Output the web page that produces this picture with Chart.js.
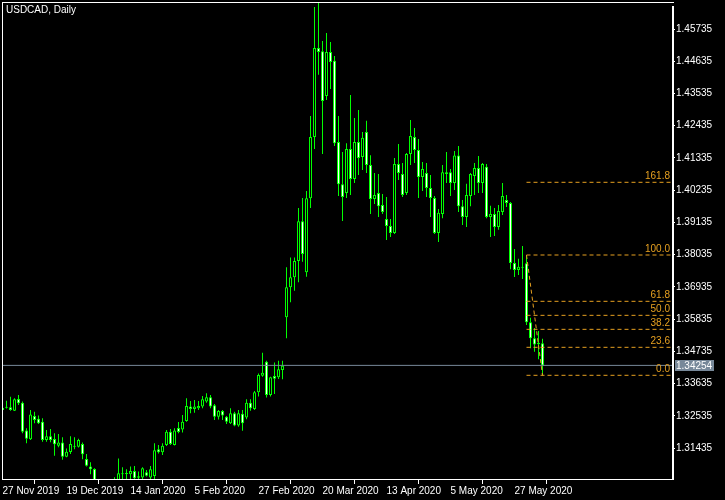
<!DOCTYPE html>
<html>
<head>
<meta charset="utf-8">
<script src="https://cdn.jsdelivr.net/npm/chart.js@4.4.1/dist/chart.umd.min.js"></script>
<style>
  html, body { margin: 0; padding: 0; background: #000; }
</style>
</head>
<body>
<canvas id="myChart" width="725" height="500"></canvas>
<script>
var symbolTitle = "USDCAD, Daily";

// daily OHLC, 27 Nov 2019 .. 5 Jun 2020
var opens = [
  1.3273,1.3281,1.3283,1.3271,1.3311,1.3298,1.3203,1.3173,1.3253,1.3243,
  1.3233,1.3171,1.3184,1.3174,1.3151,1.3162,1.3114,1.3130,1.3151,1.3148,
  1.3157,1.3106,1.3080,1.3072,1.3020,1.2995,1.2975,1.3005,1.2985,1.3010,
  1.3057,1.3058,1.3054,1.3065,1.3042,1.3043,1.3061,1.3043,1.3048,1.3139,
  1.3129,1.3154,1.3199,1.3154,1.3212,1.3207,1.3236,1.3285,1.3277,1.3279,
  1.3285,1.3302,1.3317,1.3289,1.3250,1.3270,1.3250,1.3228,1.3262,1.3220,
  1.3260,1.3248,1.3298,1.3277,1.3334,1.3390,1.3438,1.3324,1.3389,1.3385,
  1.3410,1.3590,1.3692,1.3726,1.3782,1.3917,1.3743,1.3996,1.4205,1.4509,
  1.4498,1.4345,1.4495,1.4465,1.4188,1.4044,1.4014,1.4164,1.4062,1.4188,
  1.4137,1.4222,1.4109,1.3993,1.4014,1.3973,1.3925,1.3901,1.3877,1.4113,
  1.4079,1.4014,1.4147,1.4205,1.4161,1.4068,1.4082,1.4031,1.3997,1.3877,
  1.3942,1.4085,1.4085,1.4048,1.4142,1.3969,1.3932,1.4004,1.4072,1.4099,
  1.4048,1.4103,1.3932,1.3942,1.3898,1.3949,1.3990,1.3980,1.3775,1.3751,
  1.3759,1.3774,1.3573,1.3518,1.3498,1.3501
];
var highs = [
  1.3300,1.3305,1.3318,1.3313,1.3324,1.3302,1.3211,1.3273,1.3267,1.3254,
  1.3245,1.3205,1.3208,1.3194,1.3191,1.3180,1.3142,1.3184,1.3180,1.3175,
  1.3162,1.3123,1.3095,1.3074,1.3030,1.3015,1.3020,1.3030,1.3044,1.3108,
  1.3078,1.3071,1.3080,1.3082,1.3063,1.3078,1.3068,1.3082,1.3160,1.3154,
  1.3160,1.3205,1.3208,1.3211,1.3232,1.3256,1.3313,1.3304,1.3307,1.3304,
  1.3321,1.3330,1.3324,1.3294,1.3273,1.3273,1.3253,1.3279,1.3267,1.3273,
  1.3273,1.3310,1.3310,1.3338,1.3398,1.3469,1.3441,1.3387,1.3435,1.3441,
  1.3441,1.3760,1.3794,1.3794,1.3963,1.3997,1.4021,1.4277,1.4649,1.4663,
  1.4533,1.4560,1.4529,1.4481,1.4277,1.4154,1.4184,1.4348,1.4270,1.4297,
  1.4222,1.4260,1.4143,1.4082,1.4079,1.4010,1.4000,1.3925,1.4133,1.4181,
  1.4116,1.4150,1.4263,1.4236,1.4198,1.4120,1.4116,1.4075,1.4004,1.3959,
  1.4109,1.4154,1.4096,1.4157,1.4174,1.3990,1.4045,1.4082,1.4116,1.4140,
  1.4116,1.4113,1.3970,1.3963,1.3973,1.4048,1.4007,1.3983,1.3823,1.3789,
  1.3833,1.3802,1.3588,1.3553,1.3543,1.3516
];
var lows = [
  1.3266,1.3278,1.3271,1.3270,1.3290,1.3194,1.3160,1.3171,1.3228,1.3225,
  1.3165,1.3165,1.3163,1.3117,1.3146,1.3103,1.3112,1.3123,1.3139,1.3145,
  1.3105,1.3080,1.3054,1.3010,1.2985,1.2955,1.2960,1.2965,1.2970,1.2995,
  1.3030,1.3032,1.3030,1.3025,1.3025,1.3030,1.3046,1.3035,1.3036,1.3125,
  1.3120,1.3150,1.3154,1.3152,1.3194,1.3196,1.3233,1.3262,1.3264,1.3273,
  1.3279,1.3298,1.3279,1.3239,1.3241,1.3239,1.3225,1.3225,1.3218,1.3216,
  1.3202,1.3242,1.3271,1.3273,1.3319,1.3387,1.3316,1.3319,1.3328,1.3379,
  1.3378,1.3518,1.3641,1.3680,1.3709,1.3779,1.3728,1.3963,1.4164,1.4417,
  1.4147,1.4331,1.4369,1.4174,1.4004,1.3918,1.3997,1.4007,1.4048,1.4075,
  1.4092,1.4082,1.3942,1.3976,1.3932,1.3942,1.3853,1.3864,1.3874,1.4058,
  1.4000,1.4007,1.4109,1.4116,1.3997,1.4021,1.4000,1.3932,1.3874,1.3847,
  1.3928,1.4048,1.4004,1.4024,1.3949,1.3905,1.3898,1.3969,1.4007,1.4014,
  1.4014,1.3928,1.3864,1.3867,1.3888,1.3939,1.3966,1.3754,1.3727,1.3734,
  1.3720,1.3563,1.3484,1.3472,1.3446,1.3391
];
var closes = [
  1.3281,1.3283,1.3273,1.3310,1.3296,1.3199,1.3175,1.3258,1.3239,1.3228,
  1.3171,1.3184,1.3171,1.3156,1.3162,1.3114,1.3131,1.3157,1.3148,1.3171,
  1.3122,1.3083,1.3071,1.3020,1.2995,1.2975,1.3005,1.2985,1.3010,1.3057,
  1.3054,1.3055,1.3065,1.3040,1.3047,1.3074,1.3049,1.3071,1.3136,1.3129,
  1.3151,1.3199,1.3157,1.3203,1.3198,1.3233,1.3287,1.3277,1.3285,1.3287,
  1.3310,1.3317,1.3285,1.3250,1.3270,1.3254,1.3233,1.3262,1.3220,1.3262,
  1.3228,1.3298,1.3279,1.3334,1.3393,1.3400,1.3324,1.3385,1.3380,1.3412,
  1.3424,1.3692,1.3726,1.3782,1.3917,1.3806,1.3996,1.4205,1.4509,1.4495,
  1.4328,1.4495,1.4461,1.4184,1.4044,1.4000,1.4164,1.4062,1.4188,1.4133,
  1.4202,1.4109,1.3993,1.4007,1.3969,1.3949,1.3901,1.3877,1.4113,1.4082,
  1.4007,1.4147,1.4208,1.4161,1.4068,1.4096,1.4031,1.3997,1.3877,1.3946,
  1.4085,1.4079,1.4048,1.4142,1.3969,1.3932,1.4007,1.4079,1.4099,1.4048,
  1.4113,1.3932,1.3942,1.3898,1.3952,1.4004,1.3980,1.3775,1.3751,1.3762,
  1.3762,1.3573,1.3518,1.3497,1.3503,1.34254
];

// axis ticks (bar index -> date label, price grid)
var xTickIndex = [0, 16, 32, 48, 64, 80, 96, 112, 128];
var xTickLabels = ["27 Nov 2019", "19 Dec 2019", "14 Jan 2020", "5 Feb 2020", "27 Feb 2020",
                   "20 Mar 2020", "13 Apr 2020", "5 May 2020", "27 May 2020"];
var yTickValues = [1.31435, 1.32535, 1.33635, 1.34735, 1.35835, 1.36935, 1.38035,
                   1.39135, 1.40235, 1.41335, 1.42435, 1.43535, 1.44635, 1.45735];

// fibonacci retracement drawn from bar 131 (high) to bar 135 (low)
var fibLabels = ["0.0", "23.6", "38.2", "50.0", "61.8", "100.0", "161.8"];
var fibPrices = [1.33916, 1.34871, 1.35485, 1.35963, 1.36441, 1.38022, 1.40503];
var fibFrom = 131, fibTo = 135;

var bidPrice = 1.34254;

var lime = "#00ff00";
var fibColor = "#e6a020";
var bidColor = "#778899";
var xMin = -0.125, xMax = 167.375;
var yMin = 1.30377, yMax = 1.46657;

Chart.defaults.font.family = "'Liberation Sans', Arial, sans-serif";
Chart.defaults.font.size = 10;
Chart.defaults.color = "#ffffff";

var wicks = [], bodies = [], bodyFill = [];
for (var i = 0; i < opens.length; i++) {
  wicks.push({ x: i, y: [lows[i], highs[i]] });
  bodies.push({ x: i, y: [opens[i], closes[i]] });
  bodyFill.push(closes[i] < opens[i] ? "#ffffff" : "#000000");
}

var datasets = [];
// bid line
datasets.push({
  type: "line",
  data: [{ x: xMin, y: bidPrice }, { x: xMax, y: bidPrice }],
  borderColor: bidColor, borderWidth: 1, pointRadius: 0, order: 0
});
fibPrices.forEach(function (p) {
  datasets.push({
    type: "line",
    data: [{ x: fibFrom, y: p }, { x: xMax, y: p }],
    borderColor: fibColor, borderWidth: 1, borderDash: [4, 3], pointRadius: 0, order: 0
  });
});
// diagonal of the retracement
datasets.push({
  type: "line",
  data: [{ x: fibFrom, y: fibPrices[5] }, { x: fibTo, y: fibPrices[0] }],
  borderColor: fibColor, borderWidth: 1, borderDash: [4, 3], pointRadius: 0, order: 0
});
datasets.push({
  type: "bar",
  data: bodies,
  backgroundColor: bodyFill,
  borderColor: lime,
  borderWidth: 1,
  borderSkipped: false,
  barThickness: 3,
  minBarLength: 1,
  inflateAmount: 0,
  grouped: false,
  clip: 0,
  order: 1
});
datasets.push({
  type: "bar",
  data: wicks,
  backgroundColor: lime,
  borderWidth: 0,
  barThickness: 1,
  inflateAmount: 0,
  grouped: false,
  clip: 0,
  order: 2
});

var mtDecor = {
  id: "mtDecor",
  beforeDraw: function (chart) {
    var ctx = chart.ctx;
    ctx.save();
    ctx.fillStyle = "#000000";
    ctx.fillRect(0, 0, chart.width, chart.height);
    ctx.restore();
  },
  afterDraw: function (chart) {
    var ctx = chart.ctx, a = chart.chartArea, ys = chart.scales.y;
    ctx.save();
    // frame
    ctx.fillStyle = "#ffffff";
    ctx.fillRect(a.left, a.top, a.right - a.left + 2, 1);
    ctx.fillRect(a.left, a.top, 1, a.bottom - a.top + 1);
    ctx.fillRect(a.left, a.bottom, a.right - a.left + 2, 1);
    ctx.fillRect(a.right, a.top + 4, 2, a.bottom - a.top - 3);

    ctx.font = "10px 'Liberation Sans', Arial, sans-serif";
    ctx.textBaseline = "alphabetic";
    ctx.textAlign = "left";
    ctx.fillText(symbolTitle, 6, 13);

    // fib level labels
    ctx.fillStyle = fibColor;
    ctx.textAlign = "right";
    fibPrices.forEach(function (p, k) {
      ctx.fillText(fibLabels[k], a.right - 2, Math.round(ys.getPixelForValue(p)) - 3);
    });

    // bid price tag
    var py = Math.round(ys.getPixelForValue(bidPrice));
    ctx.fillStyle = bidColor;
    ctx.fillRect(a.right + 3, py - 5, 39, 11);
    ctx.fillStyle = "#ffffff";
    ctx.textAlign = "left";
    ctx.textBaseline = "middle";
    ctx.fillText(bidPrice.toFixed(5), a.right + 4, py + 1);
    ctx.restore();
  }
};

new Chart("myChart", {
  type: "bar",
  data: { datasets: datasets },
  options: {
    responsive: false,
    animation: false,
    layout: { padding: { left: 2, top: 2, right: 0, bottom: 0 } },
    plugins: { legend: { display: false }, tooltip: { enabled: false } },
    scales: {
      x: {
        type: "linear",
        min: xMin,
        max: xMax,
        offset: false,
        afterBuildTicks: function (s) {
          s.ticks = xTickIndex.map(function (v) { return { value: v }; });
        },
        afterFit: function (s) {
          s.height = 21;
          s.paddingLeft = 0;
          s.paddingRight = 0;
        },
        grid: { drawOnChartArea: false, tickLength: 5, color: "#ffffff" },
        border: { display: false },
        ticks: {
          autoSkip: false,
          maxRotation: 0,
          align: "start",
          padding: 1,
          color: "#ffffff",
          callback: function (v, idx) { return xTickLabels[idx]; }
        }
      },
      y: {
        type: "linear",
        position: "right",
        min: yMin,
        max: yMax,
        afterBuildTicks: function (s) {
          s.ticks = yTickValues.map(function (v) { return { value: v }; });
        },
        afterFit: function (s) {
          s.width = 53;
          s.paddingTop = 0;
          s.paddingBottom = 0;
        },
        grid: { drawOnChartArea: false, tickLength: 3, color: "#ffffff" },
        border: { display: false },
        ticks: {
          padding: 1,
          color: "#ffffff",
          callback: function (v) { return Number(v).toFixed(5); }
        }
      }
    }
  },
  plugins: [mtDecor]
});
</script>
</body>
</html>
